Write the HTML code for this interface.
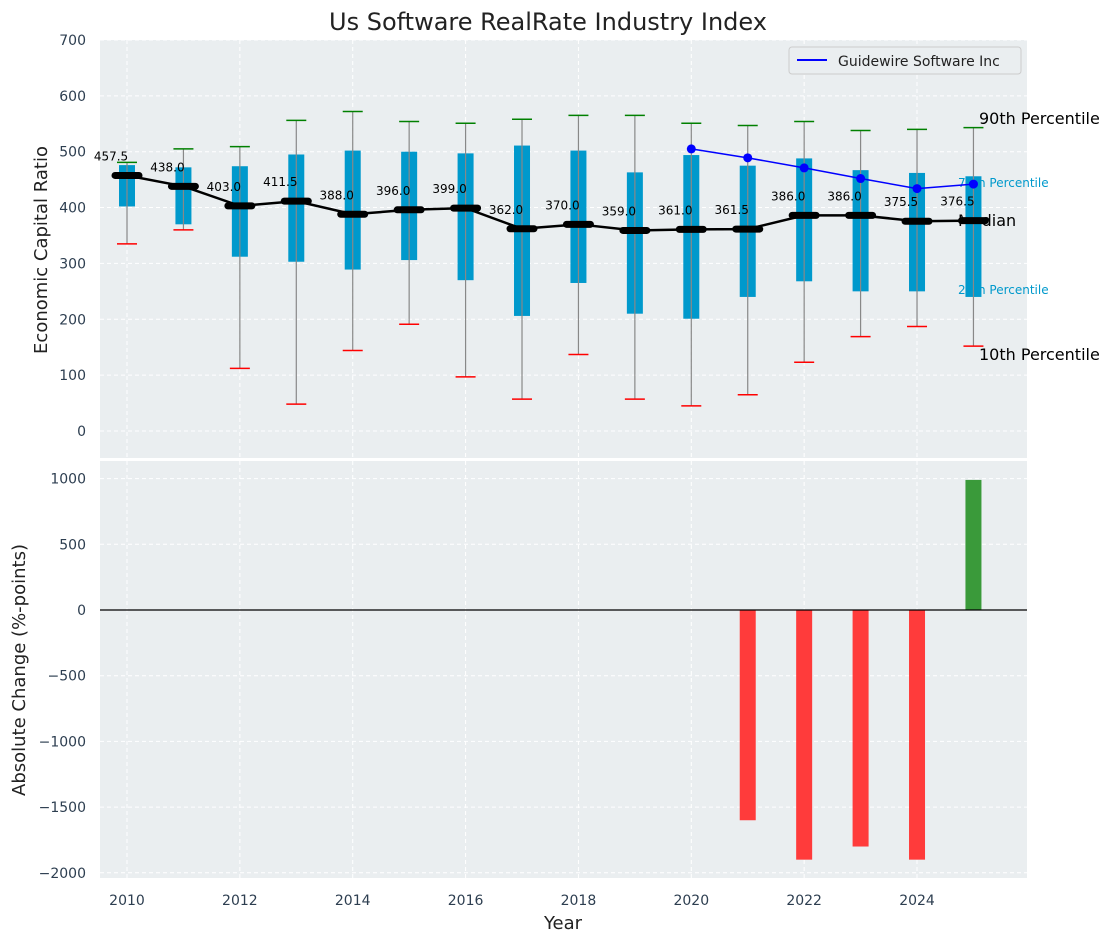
<!DOCTYPE html>
<html><head><meta charset="utf-8"><style>
body{margin:0;background:#fff;}
svg{display:block;font-family:"DejaVu Sans","Liberation Sans",sans-serif;}
</style></head><body>
<svg id="s" width="1114" height="942" xmlns="http://www.w3.org/2000/svg">
<rect x="100" y="40" width="927" height="418" fill="#eaeef0"/>
<rect x="100" y="461" width="927" height="417" fill="#eaeef0"/>
<g id="grid" stroke="#fff" stroke-dasharray="4,3" stroke-width="1"></g>
<text x="548" y="30" font-size="24" text-anchor="middle" fill="#222">Us Software RealRate Industry Index</text>
<text x="979" y="124" font-size="16" fill="#000">90th Percentile</text>
<text x="958" y="187" font-size="12" fill="#0099cc">75th Percentile</text>
<text x="958" y="226" font-size="16" fill="#000">Median</text>
<text x="958" y="294" font-size="12" fill="#0099cc">25th Percentile</text>
<text x="979" y="360" font-size="16" fill="#000">10th Percentile</text>
<g id="top"></g>
<g id="bot"></g>
<line x1="100" y1="610" x2="1027" y2="610" stroke="#000" stroke-width="1.2"/>
<g font-size="14" fill="#2d3e50" id="ticks"></g>
<text x="563" y="929" font-size="18" text-anchor="middle" fill="#222">Year</text>
<text transform="translate(47,250) rotate(-90)" font-size="18" text-anchor="middle" fill="#222">Economic Capital Ratio</text>
<text transform="translate(25,670) rotate(-90)" font-size="18" text-anchor="middle" fill="#222">Absolute Change (%-points)</text>
<rect x="789" y="47" width="232" height="27" fill="#eaeef0" stroke="#ccc" rx="3"/>
<line x1="797" y1="60" x2="827" y2="60" stroke="#0000ff" stroke-width="2"/>
<text x="838" y="66" font-size="14" fill="#222">Guidewire Software Inc</text>
</svg>
<script>
var NS="http://www.w3.org/2000/svg";
function el(p,t,a,txt){var e=document.createElementNS(NS,t);for(var k in a)e.setAttribute(k,a[k]);if(txt!=null)e.textContent=txt;document.getElementById(p).appendChild(e);return e;}
function X(y){return 127+(y-2010)*56.43;}
function Y(v){return 431-0.5586*v;}
function B(v){return 610-0.1314*v;}
for(var v=0;v<=700;v+=100){el('grid','line',{x1:100,x2:1027,y1:Y(v),y2:Y(v)});el('ticks','text',{x:86,y:Y(v)+5,'text-anchor':'end'},v);}
for(var v=-2000;v<=1000;v+=500){el('grid','line',{x1:100,x2:1027,y1:B(v),y2:B(v)});el('ticks','text',{x:86,y:B(v)+5,'text-anchor':'end'},v==0?'0':(v<0?'\u2212'+(-v):v));}
for(var y=2010;y<=2024;y+=2){el('grid','line',{x1:X(y),x2:X(y),y1:40,y2:458});el('grid','line',{x1:X(y),x2:X(y),y1:461,y2:878});el('ticks','text',{x:X(y),y:905,'text-anchor':'middle'},y);}
var d=[[335,402,457.5,476,481],[360,370,438,472,505],[112,312,403,474,509],[48,303,411.5,495,556],[144,289,388,502,572],[191,306,396,500,554],[97,270,399,497,551],[57,206,362,511,558],[137,265,370,502,565],[57,210,359,463,565],[45,201,361,494,551],[65,240,361.5,475,547],[123,268,386,488,554],[169,250,386,467,538],[187,250,375.5,462,540],[152,240,376.5,456,543]];
var pts=[];
d.forEach(function(r,i){var x=X(2010+i);
el('top','rect',{x:x-8,y:Y(r[3]),width:16,height:Y(r[1])-Y(r[3]),fill:'#0099cc'});
el('top','line',{x1:x,x2:x,y1:Y(r[0]),y2:Y(r[4]),stroke:'#888','stroke-width':1.2});
el('top','line',{x1:x-10,x2:x+10,y1:Y(r[0]),y2:Y(r[0]),stroke:'#ff0000','stroke-width':1.5});
el('top','line',{x1:x-10,x2:x+10,y1:Y(r[4]),y2:Y(r[4]),stroke:'#008000','stroke-width':1.5});
pts.push(x+','+Y(r[2]));});
el('top','polyline',{points:pts.join(' '),fill:'none',stroke:'#000','stroke-width':2.5});
d.forEach(function(r,i){var x=X(2010+i);
el('top','line',{x1:x-12,x2:x+12,y1:Y(r[2]),y2:Y(r[2]),stroke:'#000','stroke-width':7,'stroke-linecap':'round'});
el('top','text',{x:x-16,y:Y(r[2])-15,'font-size':12,'text-anchor':'middle',fill:'#000'},r[2].toFixed(1));});
var g=[505,489,471,452,434,442],gp=[];
g.forEach(function(v,i){gp.push(X(2020+i)+','+Y(v));});
el('top','polyline',{points:gp.join(' '),fill:'none',stroke:'#0000ff','stroke-width':1.5});
g.forEach(function(v,i){el('top','circle',{cx:X(2020+i),cy:Y(v),r:4.5,fill:'#0000ff'});});
[[2021,-1600],[2022,-1900],[2023,-1800],[2024,-1900],[2025,990]].forEach(function(b){var x=X(b[0]);var y0=B(0),y1=B(b[1]);
el('bot','rect',{x:x-8,y:Math.min(y0,y1),width:16,height:Math.abs(y1-y0),fill:b[1]<0?'#ff3b3b':'#3a9a3a'});});
</script>
</body></html>
